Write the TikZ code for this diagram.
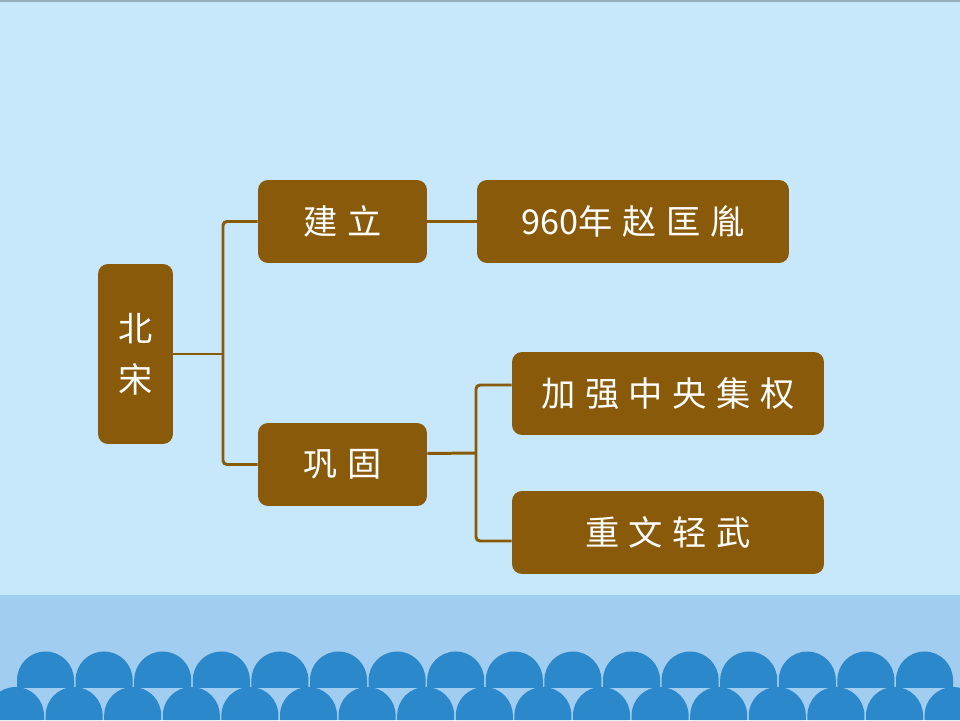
\documentclass[tikz,border=0pt]{standalone}
\usepackage{fontspec}
\usepackage{xcolor}
\usetikzlibrary{positioning}
\newfontfamily\cjk{Noto Sans CJK SC}[LetterSpace=28]
\newfontfamily\cjkdigits{Noto Sans CJK SC}

\definecolor{skyblue}{HTML}{C7E8FA}
\definecolor{seablue}{HTML}{A0CDF0}
\definecolor{waveblue}{HTML}{2B88CB}
\definecolor{woodbrown}{HTML}{8A5A0B}

\begin{document}
\begin{tikzpicture}[x=0.02cm,y=0.02cm,
		box/.style={fill=woodbrown,rounded corners=0.2cm,text=white,inner sep=0pt,
			font=\cjk\fontsize{19.5}{29}\selectfont,align=center},
		link/.style={draw=woodbrown,line width=1.7pt,rounded corners=0.08cm}]
		\newcommand{\waveR}{28.5}
		\newcommand{\waveGap}{58.6}
		
		\useasboundingbox (0,0) rectangle (960,720);
		\clip (0,0) rectangle (960,720);
		\fill[skyblue] (0,0) rectangle (960,720);		% sky
		\fill[black!25!skyblue] (0,718) rectangle (960,720);	% top edge
		\fill[seablue] (0,0) rectangle (960,125);		% sea band
		
		% back row of waves
		\foreach \k in {0,...,15}
			\fill[waveblue] ({45.5+\waveGap*\k-\waveR},32) -- ++(0,8) arc[start angle=180,end angle=0,radius=\waveR] -- ++(0,-8) -- cycle;
		% front row of waves
		\foreach \k in {0,...,16}
			\fill[waveblue] ({15.5+\waveGap*\k-\waveR},0) -- ++(0,4.5) arc[start angle=180,end angle=0,radius=\waveR] -- ++(0,-4.5) -- cycle;
		
		% boxes
		\node[box,minimum width=1.5cm,minimum height=3.6cm] (song) at (135.5,366) {北\\宋};
		\node[box,minimum width=3.38cm,minimum height=1.66cm] (jianli) at (342.5,498.5) {建立};
		\node[box,minimum width=3.38cm,minimum height=1.66cm] (gonggu) at (342.5,255.5) {巩固};
		\node[box,minimum width=6.24cm,minimum height=1.66cm] (zhao) at (633,498.5) {{\cjkdigits 960}年赵匡胤};
		\node[box,minimum width=6.24cm,minimum height=1.66cm] (jiaqiang) at (668,326.5) {加强中央集权};
		\node[box,minimum width=6.24cm,minimum height=1.66cm] (zhongwen) at (668,187.5) {重文轻武};
		
		% connectors
		\coordinate (forkA) at (223,366);
		\coordinate (forkB) at (476,267);
		\draw[link] (song.east) -- (forkA);
		\draw[link] (jianli.west) -| (forkA) |- (gonggu.west);
		\draw[link] (jianli.east) -- (zhao.west);
		\draw[link] ([yshift=0.22cm]gonggu.east) -- (forkB);
		\draw[link] ([yshift=0.17cm]jiaqiang.west) -| (forkB) |- ([yshift=-0.17cm]zhongwen.west);
\end{tikzpicture}
\end{document}
